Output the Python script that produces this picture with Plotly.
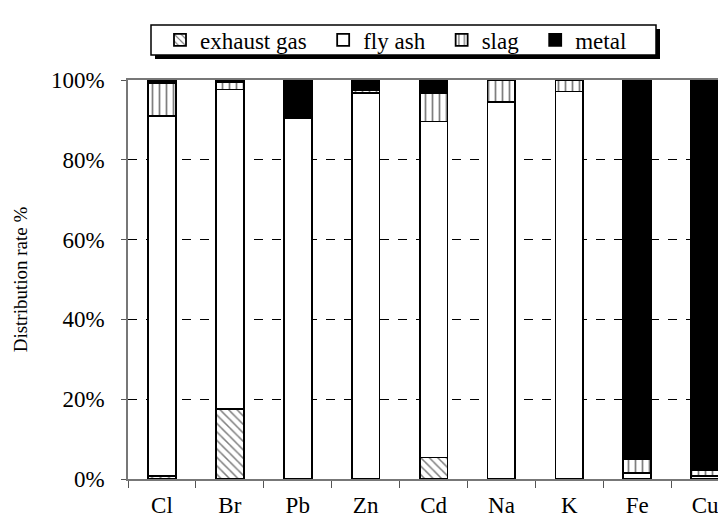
import plotly.graph_objects as go

elements = ["Cl", "Br", "Pb", "Zn", "Cd", "Na", "K", "Fe", "Cu"]
exhaust_gas = [0.8, 17.6, 0.0, 0.0, 5.4, 0.0, 0.0, 0.0, 0.0]
fly_ash = [90.1, 80.0, 90.4, 96.7, 84.2, 94.4, 97.1, 1.5, 0.7]
slag = [8.4, 1.8, 0.5, 0.7, 7.2, 5.6, 2.9, 3.5, 1.5]
metal = [0.7, 0.6, 9.1, 2.6, 3.2, 0.0, 0.0, 95.0, 97.8]
y_ticks = [0, 20, 40, 60, 80, 100]
y_tick_text = ["0%", "20%", "40%", "60%", "80%", "100%"]
series_names = ["exhaust gas", "fly ash", "slag", "metal"]

FONT = "Liberation Serif, Times New Roman, DejaVu Serif, serif"
line = dict(color="black", width=1.8)
PAD = "\u00a0\u00a0"

W, H = 726, 518
ML, MR, MT, MB = 120, 0, 72, 47
PW, PH = W - ML - MR, H - MT - MB


def px_x(px):
    return (px - ML) / PW


def px_y(py):
    return (H - MB - py) / PH


fig = go.Figure()
fig.add_trace(go.Bar(
    name=series_names[0] + PAD, x=elements, y=exhaust_gas,
    marker=dict(color="white", line=line,
                pattern=dict(shape="\\", fgcolor="black", bgcolor="white", size=6, solidity=0.25)),
))
fig.add_trace(go.Bar(
    name=series_names[1] + PAD, x=elements, y=fly_ash,
    marker=dict(color="white", line=line),
))
fig.add_trace(go.Bar(
    name=series_names[2] + PAD, x=elements, y=slag,
    marker=dict(color="white", line=line,
                pattern=dict(shape="|", fgcolor="black", bgcolor="white", size=7, solidity=0.25)),
))
fig.add_trace(go.Bar(
    name=series_names[3], x=elements, y=metal,
    marker=dict(color="black", line=line),
))

# legend frame with drop shadow
fig.add_shape(type="rect", xref="paper", yref="paper",
              x0=px_x(147), x1=px_x(652), y0=px_y(51), y1=px_y(21),
              fillcolor="black", line=dict(width=0), layer="below")
fig.add_shape(type="rect", xref="paper", yref="paper",
              x0=px_x(143), x1=px_x(648), y0=px_y(47), y1=px_y(17),
              fillcolor="white", line=dict(color="black", width=1.5), layer="below")

fig.update_layout(
    barmode="stack",
    bargap=0.59,
    width=W, height=H,
    margin=dict(l=ML, r=MR, t=MT, b=MB),
    paper_bgcolor="white",
    plot_bgcolor="white",
    font=dict(family=FONT, size=23, color="black"),
    showlegend=True,
    legend=dict(
        orientation="h",
        x=px_x(152), xanchor="left",
        y=px_y(32), yanchor="middle",
        borderwidth=0,
        bgcolor="rgba(0,0,0,0)",
        font=dict(family=FONT, size=23, color="black"),
        traceorder="normal",
        itemwidth=30,
    ),
    xaxis=dict(
        type="category",
        range=[-0.5, 8.425],
        tickson="boundaries",
        ticks="outside", ticklen=7, tickwidth=1.2, tickcolor="#555",
        showline=True, linecolor="#777", linewidth=1.5,
        mirror=True,
        showgrid=False,
        ticklabelstandoff=5,
        tickfont=dict(family=FONT, size=23),
    ),
    yaxis=dict(
        range=[0, 100],
        tickvals=y_ticks,
        ticktext=y_tick_text,
        ticks="outside", ticklen=5, tickcolor="#555",
        showline=True, linecolor="#777", linewidth=1.5,
        showgrid=True, gridcolor="black", gridwidth=1.2, griddash="dash",
        zeroline=False,
        ticklabelstandoff=12,
        tickfont=dict(family=FONT, size=23),
        title=dict(text="Distribution rate %", font=dict(family=FONT, size=19), standoff=18),
    ),
)

fig.write_html("out.html")
